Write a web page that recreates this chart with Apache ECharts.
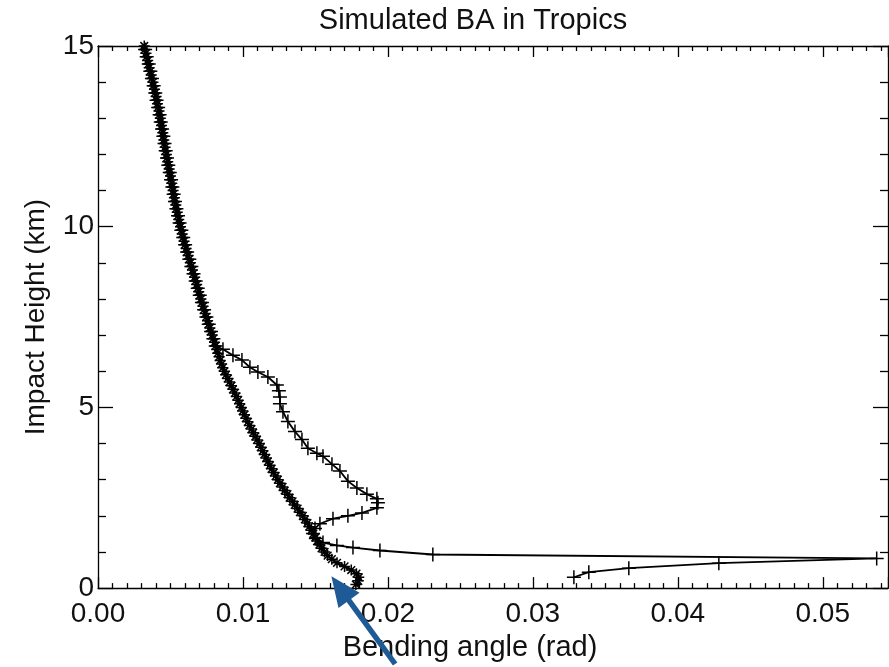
<!DOCTYPE html>
<html><head><meta charset="utf-8">
<script src="https://cdn.jsdelivr.net/npm/echarts@6/dist/echarts.min.js"></script>
<style>html,body{margin:0;padding:0;background:#fff}#c{width:889px;height:667px}</style>
</head><body><div id="c"></div>
<script>
// ---------------- data ----------------
const titleText = 'Simulated BA in Tropics';
const xAxisName = 'Bending angle (rad)';
const yAxisName = 'Impact Height (km)';
const xTickLabels = ['0.00', '0.01', '0.02', '0.03', '0.04', '0.05'];
const yTickLabels = ['0', '5', '10', '15'];

// '*' profile (impact height km, bending angle rad)
const starHeight = [15.1,15.0,14.9,14.8,14.7,14.6,14.5,14.4,14.3,14.2,14.1,14.0,13.9,13.8,13.7,13.6,13.5,13.4,13.3,13.2,13.1,13.0,
  12.9,12.8,12.7,12.6,12.5,12.4,12.3,12.2,12.1,12.0,11.9,11.8,11.7,11.6,11.5,11.4,11.3,11.2,11.1,11.0,
  10.9,10.8,10.7,10.6,10.5,10.4,10.3,10.2,10.1,10.0,9.9,9.8,9.7,9.6,9.5,9.4,9.3,9.2,9.1,9.0,
  8.9,8.8,8.7,8.6,8.5,8.4,8.3,8.2,8.1,8.0,7.9,7.8,7.7,7.6,7.5,7.4,7.3,7.2,7.1,7.0,
  6.9,6.8,6.7,6.6,6.5,6.4,6.3,6.2,6.1,6.0,5.9,5.8,5.7,5.6,5.5,5.4,5.3,5.2,5.1,5.0,
  4.9,4.8,4.7,4.6,4.5,4.4,4.3,4.2,4.1,4.0,3.9,3.8,3.7,3.6,3.5,3.4,3.3,3.2,3.1,3.0,
  2.9,2.8,2.7,2.6,2.5,2.4,2.3,2.2,2.1,2.0,1.9,1.8,1.7,1.6,1.5,1.4,1.3,1.2,1.1,1.0,
  0.9,0.8,0.7,0.6,0.5,0.4,0.3,0.2,0.1];
const starAngle = [0.00310,0.00319,0.00321,0.00331,0.00333,0.00343,0.00347,0.00353,0.00359,0.00367,0.00370,0.00379,0.00381,0.00390,0.00393,0.00401,0.00404,0.00410,0.00413,0.00421,0.00423,0.00430,
  0.00431,0.00438,0.00440,0.00447,0.00449,0.00454,0.00457,0.00463,0.00465,0.00472,0.00474,0.00481,0.00483,0.00491,0.00493,0.00500,0.00502,0.00509,0.00511,0.00518,
  0.00520,0.00527,0.00529,0.00537,0.00539,0.00547,0.00550,0.00557,0.00561,0.00569,0.00573,0.00581,0.00586,0.00594,0.00599,0.00608,0.00613,0.00622,0.00628,0.00637,
  0.00642,0.00652,0.00657,0.00667,0.00672,0.00681,0.00686,0.00695,0.00700,0.00710,0.00715,0.00725,0.00730,0.00740,0.00746,0.00756,0.00762,0.00772,0.00778,0.00788,
  0.00794,0.00804,0.00810,0.00820,0.00826,0.00836,0.00842,0.00853,0.00860,0.00872,0.00882,0.00896,0.00906,0.00921,0.00931,0.00945,0.00954,0.00967,0.00976,0.00989,
  0.00998,0.01011,0.01020,0.01034,0.01044,0.01059,0.01070,0.01086,0.01097,0.01113,0.01123,0.01137,0.01147,0.01161,0.01171,0.01186,0.01197,0.01213,0.01225,0.01241,
  0.01255,0.01273,0.01288,0.01307,0.01322,0.01342,0.01357,0.01377,0.01393,0.01413,0.01427,0.01445,0.01457,0.01473,0.01485,0.01500,0.01511,0.01527,0.01542,0.01563,
  0.01584,0.01613,0.01649,0.01701,0.01747,0.01783,0.01799,0.01796,0.01779];

// '+' profile (impact height km, bending angle rad)
const plusHeight = [15.1,14.9,14.7,14.5,14.3,14.1,13.9,13.7,13.5,13.3,13.1,12.9,12.7,12.5,12.3,12.1,11.9,11.7,11.5,11.3,11.1,
  10.9,10.7,10.5,10.3,10.1,9.9,9.7,9.5,9.3,9.1,8.9,8.7,8.5,8.3,8.1,7.9,7.7,7.5,7.3,7.1,6.9,6.7,
  6.61,6.44,6.31,6.11,5.98,5.84,5.62,5.46,5.29,5.10,4.88,4.61,4.33,4.11,3.87,3.73,3.65,3.43,3.24,2.96,2.77,2.60,2.47,2.36,2.22,
  2.08,2.00,1.92,1.78,1.65,1.51,1.37,1.26,1.18,1.12,1.04,0.93,0.82,0.69,0.55,0.44,0.30];
const plusAngle = [0.00315,0.00325,0.00336,0.00350,0.00361,0.00372,0.00384,0.00395,0.00404,0.00415,0.00425,0.00433,0.00442,0.00451,0.00459,0.00467,0.00476,0.00485,0.00495,0.00504,0.00513,
  0.00522,0.00531,0.00541,0.00552,0.00563,0.00575,0.00588,0.00601,0.00615,0.00630,0.00644,0.00659,0.00674,0.00688,0.00702,0.00717,0.00732,0.00748,0.00764,0.00780,0.00796,0.00812,
  0.00862,0.00931,0.00993,0.01048,0.01103,0.01172,0.01234,0.01248,0.01255,0.01255,0.01276,0.01310,0.01359,0.01407,0.01448,0.01510,0.01552,0.01614,0.01669,0.01724,0.01786,0.01855,0.01924,0.01931,0.01924,
  0.01821,0.01724,0.01621,0.01531,0.01497,0.01483,0.01503,0.01552,0.01648,0.01759,0.01945,0.02310,0.05372,0.04283,0.03662,0.03386,0.03283];

// annotation arrow (data units: tail below axis, tip near the bottom of the profile)
const arrowTail = [0.0205, -2.1];
const arrowTip = [0.0161, 0.33];

// ---------------- chart ----------------
const FONT = 'Liberation Sans';
const TEXT = '#111';
const starData = starAngle.map((a, i) => [a, starHeight[i]]);
const plusData = plusAngle.map((a, i) => [a, plusHeight[i]]);
const plusPath = 'path://M0,-10L0,10M-10,0L10,0';
const starPath = 'path://M0,-10L0,10M-10,0L10,0M-7,-7L7,7M-7,7L7,-7';

const chart = echarts.init(document.getElementById('c'), null, {renderer: 'canvas'});

function xAxisCfg(pos, showLabel) {
  return {
    type: 'value', position: pos, min: 0, max: 0.0545, interval: 0.01,
    axisLine: {show: true, onZero: false, lineStyle: {color: '#000', width: 1.3}},
    axisTick: {show: true, inside: true, length: 11, lineStyle: {color: '#000', width: 1.3}},
    minorTick: {show: true, splitNumber: 10, length: 5, lineStyle: {color: '#000', width: 1.3}},
    splitLine: {show: false}, minorSplitLine: {show: false},
    axisLabel: {
      show: showLabel, showMaxLabel: false, margin: 12, fontSize: 28, color: TEXT, fontFamily: FONT,
      formatter: v => xTickLabels[Math.round(v / 0.01)] || ''
    },
    name: showLabel ? xAxisName : '', nameLocation: 'middle', nameGap: 36,
    nameTextStyle: {fontSize: 29, color: TEXT, fontFamily: FONT, padding: [0, 46, 0, 0]}
  };
}
function yAxisCfg(pos, showLabel) {
  return {
    type: 'value', position: pos, min: 0, max: 15, interval: 5,
    axisLine: {show: true, onZero: false, lineStyle: {color: '#000', width: 1.3}},
    axisTick: {show: true, inside: true, length: 15, lineStyle: {color: '#000', width: 1.3}},
    minorTick: {show: true, splitNumber: 5, length: 8, lineStyle: {color: '#000', width: 1.3}},
    splitLine: {show: false}, minorSplitLine: {show: false},
    axisLabel: {
      show: showLabel, margin: 4, fontSize: 28, color: TEXT, fontFamily: FONT,
      formatter: v => yTickLabels[Math.round(v / 5)] || ''
    },
    name: showLabel ? yAxisName : '', nameLocation: 'middle', nameGap: 48,
    nameTextStyle: {fontSize: 28, color: TEXT, fontFamily: FONT}
  };
}

chart.setOption({
  animation: false,
  backgroundColor: '#fff',
  title: {
    text: titleText, left: 468, top: 1, textAlign: 'center',
    textStyle: {fontSize: 29, fontWeight: 'normal', color: TEXT, fontFamily: FONT}
  },
  grid: {left: 98, right: 1, top: 46, bottom: 74, containLabel: false},
  xAxis: [xAxisCfg('bottom', true), xAxisCfg('top', false)],
  yAxis: [yAxisCfg('left', true), yAxisCfg('right', false)],
  series: [
    {
      type: 'line', name: 'star', data: starData, xAxisIndex: 0, yAxisIndex: 0,
      symbol: starPath, symbolSize: 11, showAllSymbol: true,
      lineStyle: {color: '#000', width: 2},
      itemStyle: {color: '#000', borderColor: '#000', borderWidth: 1.5},
      emphasis: {disabled: true}, z: 2
    },
    {
      type: 'line', name: 'plus', data: plusData, xAxisIndex: 0, yAxisIndex: 0,
      symbol: plusPath, symbolSize: 14, showAllSymbol: true,
      lineStyle: {color: '#000', width: 1.8},
      itemStyle: {color: '#000', borderColor: '#000', borderWidth: 1.5},
      emphasis: {disabled: true}, z: 3
    }
  ]
});

// arrow annotation, placed through the chart's own coordinate conversion
(function drawArrow() {
  const p0 = chart.convertToPixel({gridIndex: 0}, arrowTail);
  const p1 = chart.convertToPixel({gridIndex: 0}, arrowTip);
  const dx = p1[0] - p0[0], dy = p1[1] - p0[1];
  const len = Math.sqrt(dx * dx + dy * dy);
  const ux = dx / len, uy = dy / len;
  const headL = 30, headW = 13;
  const bx = p1[0] - ux * headL, by = p1[1] - uy * headL;
  const nx = -uy, ny = ux;
  const col = '#1d5a96';
  chart.setOption({
    graphic: [
      {type: 'line', z: 100, shape: {x1: p0[0], y1: p0[1], x2: bx + ux * 3, y2: by + uy * 3},
       style: {stroke: col, lineWidth: 5.5}},
      {type: 'polygon', z: 100, shape: {points: [[p1[0], p1[1]], [bx + nx * headW, by + ny * headW], [bx - nx * headW, by - ny * headW]]},
       style: {fill: col}}
    ]
  });
})();
</script>
</body></html>
